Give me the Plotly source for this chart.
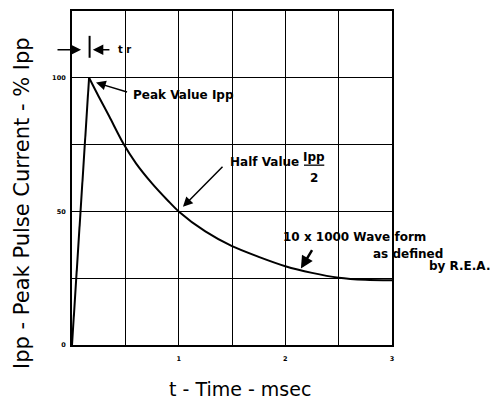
import plotly.graph_objects as go

# Waveform data
t_ms = [0.0, 0.16, 0.25, 0.35, 0.48, 0.6, 0.75, 0.9, 1.0, 1.25, 1.5, 1.75, 2.0, 2.25, 2.5, 2.75, 3.0]
ipp_pct = [0.0, 100.0, 93.0, 85.5, 75.5, 68.0, 60.5, 54.0, 50.0, 42.5, 37.0, 33.0, 29.5, 27.0, 25.2, 24.4, 24.2]

x_tickvals = [0, 0.5, 1, 1.5, 2, 2.5, 3]
x_ticktext = ["", "", "1", "", "2", "", "3"]
y_tickvals = [0, 25, 50, 75, 100, 125]
y_ticktext = ["0", "", "50", "", "100", ""]

FONT = "DejaVu Sans"

fig = go.Figure()
# rising edge
fig.add_trace(go.Scatter(x=t_ms[:2], y=ipp_pct[:2], mode="lines",
                         line=dict(color="black", width=2),
                         showlegend=False, hoverinfo="skip"))
# decay
fig.add_trace(go.Scatter(x=t_ms[1:], y=ipp_pct[1:], mode="lines",
                         line=dict(color="black", width=2, shape="spline", smoothing=0.8),
                         showlegend=False, hoverinfo="skip"))

axis_common = dict(showgrid=True, gridcolor="black", gridwidth=1.3,
                   showline=True, linecolor="black", linewidth=2, mirror=True,
                   zeroline=False, ticks="",
                   tickfont=dict(family=FONT, size=6.5, color="black", weight="bold"))

fig.update_xaxes(range=[0, 3], tickvals=x_tickvals, ticktext=x_ticktext,
                 ticklabelstandoff=6, **axis_common)
fig.update_yaxes(range=[0, 125], tickvals=y_tickvals, ticktext=y_ticktext,
                 ticklabelstandoff=3, **axis_common)

annotations = []
def txt(x, y, s, anchor="left", size=12, xref="x"):
    annotations.append(dict(x=x, y=y, xref=xref, yref="y", text=s, showarrow=False,
                            xanchor=anchor, yanchor="middle",
                            font=dict(family=FONT, size=size, color="black", weight="bold")))

def arrow(x, y, ax, ay, width=1.5, size=1.3):
    annotations.append(dict(x=x, y=y, ax=ax, ay=ay, xref="x", yref="y", axref="x", ayref="y",
                            text="", showarrow=True, arrowhead=2, arrowsize=size,
                            arrowwidth=width, arrowcolor="black", standoff=0, startstandoff=0))

txt(0.553, 93.75, "Peak Value Ipp")
arrow(0.225, 98.2, 0.53, 94.5)

txt(1.462, 68.45, "Half Value")
txt(2.27, 70.3, "Ipp", anchor="center")
txt(2.27, 62.4, "2", anchor="center")
arrow(1.04, 51.7, 1.425, 67.3)

txt(1.959, 40.55, "10 x 1000 Wave form")
txt(2.802, 34.2, "as defined")
txt(1.109, 29.4, "by R.E.A.", xref="paper")
arrow(2.146, 28.6, 2.259, 36.1, width=2.5, size=1.0)

# rise-time marker
arrow(0.085, 110.5, -0.15, 110.5, width=1.5, size=1.4)
arrow(0.195, 110.5, 0.365, 110.5, width=1.5, size=1.4)
txt(0.41, 110.5, "t r", size=10)

# axis titles
annotations.append(dict(x=-0.156, y=0.4256, xref="paper", yref="paper",
                        text="Ipp - Peak Pulse Current - % Ipp", showarrow=False, textangle=-90,
                        xanchor="center", yanchor="middle",
                        font=dict(family=FONT, size=21, color="black")))
annotations.append(dict(x=0.525, y=-0.131, xref="paper", yref="paper",
                        text="t - Time - msec", showarrow=False,
                        xanchor="center", yanchor="middle",
                        font=dict(family=FONT, size=19, color="black")))

shapes = [
    dict(type="line", xref="x", yref="y", x0=0.165, x1=0.165, y0=107.5, y1=115.7,
         line=dict(color="black", width=2)),
    dict(type="line", xref="x", yref="y", x0=2.175, x1=2.365, y0=67.3, y1=67.3,
         line=dict(color="black", width=1.3)),
]

# page body has an 8px margin, so the figure is 8px smaller and offset accordingly
fig.update_layout(width=492, height=394, margin=dict(l=64, r=108, t=1, b=57),
                  paper_bgcolor="white", plot_bgcolor="white",
                  annotations=annotations, shapes=shapes)

fig.write_html("out.html")
